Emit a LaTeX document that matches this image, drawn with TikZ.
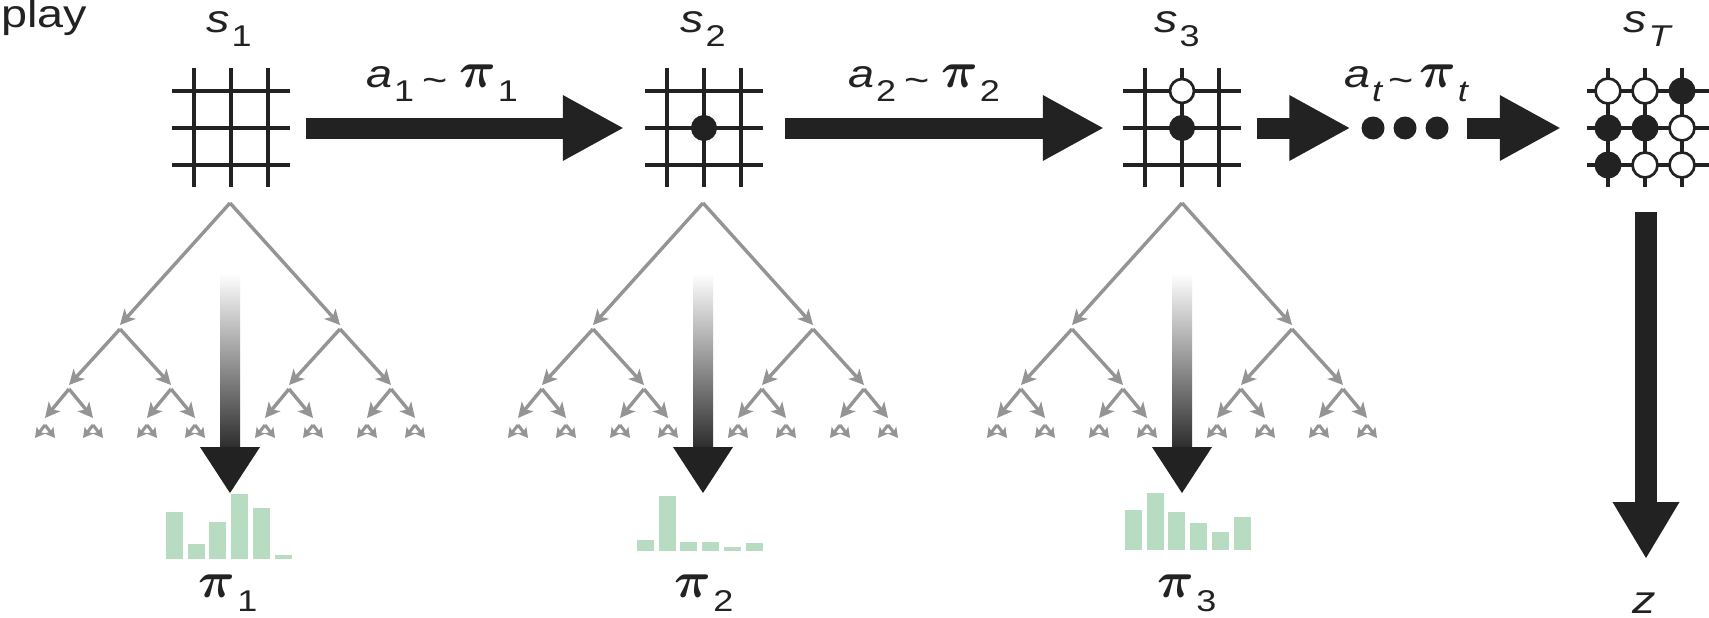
\RequirePackage{fix-cm}
\documentclass[tikz,border=0pt]{standalone}
\usepackage{fontspec}
\usepackage{amsmath}
\usetikzlibrary{arrows.meta,calc}
\newfontfamily\labfont{Liberation Sans}[FakeStretch=1.2]
\definecolor{ink}{HTML}{222222}
\definecolor{treegray}{HTML}{949494}
\definecolor{histgreen}{RGB}{183,220,193}
\newcommand\mainsz{\fontsize{39}{40}\selectfont}
\newcommand\lowsub[1]{\hspace{2pt}\raisebox{-14pt}{\fontsize{30}{30}\selectfont #1}}
\newcommand\bpi{{\fontsize{51}{51}\selectfont$\boldsymbol{\pi}$}}
\newcommand\tsim{\raisebox{-5pt}{\fontsize{36}{36}\selectfont\textasciitilde}}
\newcommand\bigharrow[2]{%
  \draw[line width=21pt, ink] (#1) -- ($(#2)+(-58,0)$);
  \fill[ink] (#2) -- ($(#2)+(-60,33)$) -- ($(#2)+(-60,-33)$) -- cycle;}
\newcommand\gameboard[1]{%
  \foreach \i in {-37,0,37} {
    \draw[gridline] ($(#1)+(\i,-60)$) -- ($(#1)+(\i,59)$);
    \draw[gridline] ($(#1)+(-59,\i)$) -- ($(#1)+(59,\i)$);
  }}
\tikzset{
  gridline/.style={line width=3.5pt, ink},
  blackstone/.style={fill=ink, draw=ink, line width=2pt},
  whitestone/.style={fill=white, draw=ink, line width=2.7pt},
  treearrow/.style={line width=3.4pt, treegray, -{Stealth[length=15pt,width=15pt,inset=4pt]}},
  leafarrow/.style={line width=3pt, treegray, -{Stealth[length=10pt,width=11pt,inset=2.5pt]}},
  bar/.style={fill=histgreen, draw=none},
  lab/.style={inner sep=0pt, font=\labfont\mainsz, text=ink},
  boardbox/.style={minimum size=118pt, inner sep=0pt, draw=none},
}
\begin{document}
\begin{tikzpicture}[x=1pt,y=-1pt]
\fill[white] (0,0) rectangle (1709,618);
\useasboundingbox (0,0) rectangle (1709,618);

% title fragment
\node[lab, anchor=base west] (title) at (1,28) {play};

% boards
\node[boardbox] (s1) at (231,128) {};
\node[boardbox] (s2) at (704,128) {};
\node[boardbox] (s3) at (1182,128) {};
\node[boardbox] (sT) at (1645,128) {};
\gameboard{s1}
\gameboard{s2}
\gameboard{s3}
\foreach \i in {-37,0,37} {
  \draw[gridline] ($(sT)+(\i,-60)$) -- ($(sT)+(\i,59)$);
  \draw[gridline] ($(sT)+(-58,\i)$) -- ($(sT)+(90,\i)$);
}
\draw[blackstone] (s2) circle (12pt);
\draw[whitestone] ($(s3)+(0,-37)$) circle (12pt);
\draw[blackstone] (s3) circle (12pt);
\foreach \dx/\dy/\st in {-37/-37/whitestone, 0/-37/whitestone, 37/-37/blackstone,
                          -37/0/blackstone, 0/0/blackstone, 37/0/whitestone,
                          -37/37/blackstone, 0/37/whitestone, 37/37/whitestone}
  \draw[\st] ($(sT)+(\dx,\dy)$) circle (12.5pt);

% state labels
\node[lab, anchor=base] (ls1) at (229,33) {{\itshape s}\lowsub{1}};
\node[lab, anchor=base] (ls2) at (703,33) {{\itshape s}\lowsub{2}};
\node[lab, anchor=base] (ls3) at (1177,33) {{\itshape s}\lowsub{3}};
\node[lab, anchor=base] (lsT) at (1647,33) {{\itshape s}\lowsub{\itshape T}};

% dots
\node[circle, fill=ink, minimum size=23pt, inner sep=0pt] (d1) at (1373,128) {};
\node[circle, fill=ink, minimum size=23pt, inner sep=0pt] (d2) at (1405,128) {};
\node[circle, fill=ink, minimum size=23pt, inner sep=0pt] (d3) at (1437,128) {};

% horizontal arrows
\bigharrow{$(s1.east)+(16,0)$}{$(s2.west)+(-22,0)$}
\bigharrow{$(s2.east)+(22,0)$}{$(s3.west)+(-20,0)$}
\bigharrow{$(s3.east)+(16,0)$}{$(d1.west)+(-12,0)$}
\bigharrow{$(d3.east)+(18,0)$}{$(sT.west)+(-26,0)$}

% action labels
\node[lab, anchor=base] (la1) at (442,88) {{\itshape a}\lowsub{1}\hspace{8pt}\tsim\hspace{12pt}\bpi\lowsub{1}};
\node[lab, anchor=base] (la2) at (924,88) {{\itshape a}\lowsub{2}\hspace{8pt}\tsim\hspace{12pt}\bpi\lowsub{2}};
\node[lab, anchor=base] (lat) at (1406,88) {{\itshape a}\lowsub{\itshape t}\hspace{6pt}\tsim\hspace{6pt}\bpi\lowsub{\itshape t}};

% search trees
\foreach \t/\rx in {1/230, 2/703, 3/1182} {
  \coordinate (r\t) at (\rx,203);
  \foreach \a/\da in {L/-1,R/1} {
    \coordinate (r\t\a) at ($(r\t)+(\da*110,122)$);
    \draw[treearrow] (r\t) -- (r\t\a);
    \foreach \b/\db in {L/-1,R/1} {
      \coordinate (r\t\a\b) at ($(r\t\a)+(\db*51,60)$);
      \draw[treearrow] ($(r\t\a)+(0,4)$) -- (r\t\a\b);
      \foreach \c/\dc in {L/-1,R/1} {
        \coordinate (r\t\a\b\c) at ($(r\t\a\b)+(\dc*24,33)$);
        \draw[treearrow] ($(r\t\a\b)+(0,4)$) -- (r\t\a\b\c);
        \foreach \d/\dd in {L/-1,R/1} {
          \coordinate (r\t\a\b\c\d) at ($(r\t\a\b\c)+(\dd*10,20)$);
          \draw[leafarrow] ($(r\t\a\b\c)+(0,7)$) -- (r\t\a\b\c\d);
        }
      }
    }
  }
  % gradient arrow
  \shade[top color=white, bottom color=black!82] ($(r\t)+(-10,70)$) rectangle ($(r\t)+(10,244)$);
  \fill[ink] ($(r\t)+(-30,244)$) -- ($(r\t)+(30,244)$) -- ($(r\t)+(0,290)$) -- cycle;
}

% histograms
\foreach \i/\top in {0/512,1/544,2/522,3/494,4/508,5/555}
  \fill[bar] (166+\i*21.7,\top) rectangle (183+\i*21.7,559);
\foreach \i/\top in {0/540,1/496,2/542,3/542,4/547,5/543}
  \fill[bar] (637+\i*21.7,\top) rectangle (654+\i*21.7,551);
\foreach \i/\top in {0/510,1/493,2/512,3/523,4/532,5/517}
  \fill[bar] (1125+\i*21.7,\top) rectangle (1142+\i*21.7,550);

% policy labels
\node[lab, anchor=base] (lp1) at (228,597) {\bpi\lowsub{1}};
\node[lab, anchor=base] (lp2) at (704,597) {\bpi\lowsub{2}};
\node[lab, anchor=base] (lp3) at (1187,597) {\bpi\lowsub{3}};

% outcome arrow
\node[lab, anchor=base] (z) at (1644,613) {\itshape z};
\coordinate (ztip) at (1646,558);
\draw[line width=22pt, ink] ($(sT.south)+(1,25)$) -- ($(ztip)+(0,-54)$);
\fill[ink] (ztip) -- ($(ztip)+(-33.5,-56)$) -- ($(ztip)+(33.5,-56)$) -- cycle;
\end{tikzpicture}
\end{document}
